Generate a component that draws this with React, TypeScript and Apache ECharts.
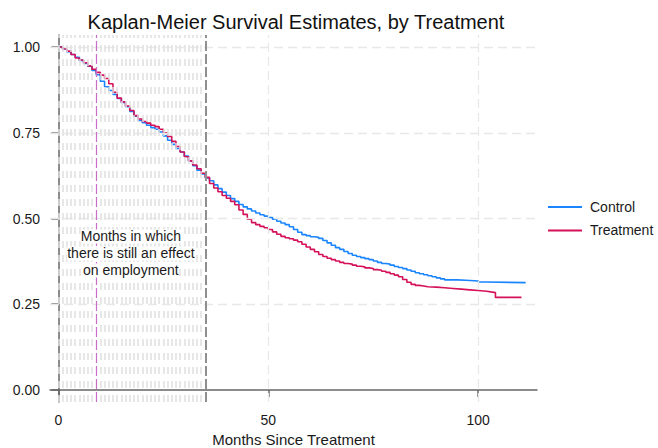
import React, { useEffect, useRef } from "react";
import * as echarts from "echarts";

// Kaplan-Meier estimates: [months, survival]
const controlSurv: [number, number][] = [
  [0, 1.0], [1, 0.994], [2, 0.986], [3, 0.978], [4, 0.97], [5, 0.961], [6, 0.952], [7, 0.944],
  [8, 0.932], [9, 0.919], [10, 0.9], [11, 0.884], [12, 0.873], [13, 0.862], [14, 0.85],
  [15, 0.838], [16, 0.826], [17, 0.812], [18, 0.798], [19, 0.786], [20, 0.779], [21, 0.772],
  [22, 0.765], [23, 0.76], [24, 0.752], [25, 0.741], [26, 0.728], [27, 0.716], [28, 0.704],
  [29, 0.694], [30, 0.682], [31, 0.668], [32, 0.654], [33, 0.641], [34, 0.63], [35, 0.618],
  [36, 0.61], [37, 0.598], [38, 0.587], [39, 0.577], [40, 0.567], [41, 0.558], [42, 0.55],
  [43, 0.541], [44, 0.534], [45, 0.528], [46, 0.522], [47, 0.516], [48, 0.511], [49, 0.507],
  [50, 0.503], [51, 0.498], [52, 0.492], [53, 0.487], [54, 0.482], [55, 0.476], [56, 0.468],
  [57, 0.46], [58, 0.453], [59, 0.45], [60, 0.447], [61, 0.445], [62, 0.442], [63, 0.436],
  [64, 0.429], [65, 0.422], [66, 0.415], [67, 0.41], [68, 0.404], [69, 0.398], [70, 0.393],
  [71, 0.389], [72, 0.386], [73, 0.383], [74, 0.38], [75, 0.376], [76, 0.372], [77, 0.369],
  [78, 0.367], [79, 0.364], [80, 0.36], [81, 0.357], [82, 0.354], [83, 0.35], [84, 0.346],
  [85, 0.342], [86, 0.339], [87, 0.336], [88, 0.333], [89, 0.33], [90, 0.327], [91, 0.324],
  [92, 0.321], [95, 0.32], [97, 0.318], [100, 0.315], [102, 0.313], [111.3, 0.313],
];

const treatmentSurv: [number, number][] = [
  [0, 1.0], [1, 0.995], [2, 0.988], [3, 0.978], [4, 0.968], [5, 0.962], [6, 0.954], [7, 0.945],
  [8, 0.935], [9, 0.926], [10, 0.918], [11, 0.908], [12, 0.893], [13, 0.868], [14, 0.851],
  [15, 0.84], [16, 0.828], [17, 0.815], [18, 0.8], [19, 0.79], [20, 0.783], [21, 0.778],
  [22, 0.772], [23, 0.768], [24, 0.76], [25, 0.75], [26, 0.739], [27, 0.725], [28, 0.71],
  [29, 0.694], [30, 0.68], [31, 0.668], [32, 0.656], [33, 0.645], [34, 0.632], [35, 0.62],
  [36, 0.602], [37, 0.589], [38, 0.578], [39, 0.567], [40, 0.559], [41, 0.55], [42, 0.54],
  [43, 0.525], [44, 0.512], [45, 0.498], [46, 0.488], [47, 0.482], [48, 0.477], [49, 0.473],
  [50, 0.468], [51, 0.461], [52, 0.454], [53, 0.448], [54, 0.444], [55, 0.441], [56, 0.437],
  [57, 0.432], [58, 0.425], [59, 0.417], [60, 0.41], [61, 0.403], [62, 0.395], [63, 0.389],
  [64, 0.384], [65, 0.38], [66, 0.376], [67, 0.372], [68, 0.369], [69, 0.367], [70, 0.364],
  [71, 0.361], [72, 0.359], [73, 0.356], [74, 0.354], [75, 0.351], [76, 0.349], [77, 0.346],
  [78, 0.343], [79, 0.339], [80, 0.335], [81, 0.33], [82, 0.322], [83, 0.314], [84, 0.308],
  [85, 0.305], [86, 0.303], [87, 0.301], [88, 0.3], [90, 0.298], [92, 0.296], [94, 0.294],
  [96, 0.292], [98, 0.29], [100, 0.288], [102, 0.286], [103, 0.284], [104.1, 0.27], [110.3, 0.27],
];

const seriesNames = ["Control", "Treatment"];
const xTicks = [0, 50, 100];
const yTicks = [0, 0.25, 0.5, 0.75, 1];
const yGridLines = [0.25, 0.5, 0.75, 1];
const xGridLines = [50, 100];
const effectMonths = [
  0, 1, 2, 3, 4, 5, 6, 7, 8, 10, 11, 12, 13, 14, 15, 16, 17, 18, 19, 20, 21, 22, 23, 24, 25,
  26, 27, 28, 29, 30, 31, 32, 33, 34,
];
const markerMonth = 9;
const cutoffMonth = 35;
const annotationPoint: [number, number] = [17.27, 0.398];
const annotationLines = ["Months in which", "there is still an effect", "on employment"];
const titleText = "Kaplan-Meier Survival Estimates, by Treatment";
const xTitle = "Months Since Treatment";

const FONT = "'Liberation Sans', Arial, Helvetica, sans-serif";
const TEXT = "#1a1a1a";

export default function App() {
  const ref = useRef<HTMLDivElement>(null);
  useEffect(() => {
    if (!ref.current) return;
    const chart = echarts.init(ref.current, undefined, { renderer: "svg" });
    const lightDash = { color: "#e0e0e0", width: 1.5, type: [7, 7] as any };
    const markLineData: any[] = [
      ...yGridLines.map((v) => ({ yAxis: v, lineStyle: { color: "#e8e8e8", width: 1.3, type: [9, 5] } })),
      ...xGridLines.map((v) => ({ xAxis: v, lineStyle: { color: "#e8e8e8", width: 1.3, type: [9, 5] } })),
      ...effectMonths.map((m) => ({ xAxis: m, lineStyle: lightDash })),
      { xAxis: markerMonth, lineStyle: { color: "#c86ec8", width: 1.2, type: [10, 3] } },
      { xAxis: cutoffMonth, lineStyle: { color: "#8f8f8f", width: 2, type: [10, 3] } },
    ];
    chart.setOption({
      animation: false,
      backgroundColor: "#ffffff",
      textStyle: { fontFamily: FONT },
      grid: { left: 50, right: 121, top: 35, bottom: 46, containLabel: false, outerBoundsMode: "none" },
      graphic: [
        {
          type: "text",
          x: 296,
          y: 22,
          style: {
            text: titleText,
            font: `20px ${FONT}`,
            fill: "#111111",
            textAlign: "center",
            textVerticalAlign: "middle",
          },
        },
      ],
      legend: {
        data: seriesNames,
        orient: "vertical",
        left: 548,
        top: 199,
        padding: 0,
        icon: "rect",
        itemWidth: 34,
        itemHeight: 2,
        itemGap: 7.4,
        textStyle: { fontSize: 14, color: TEXT, fontFamily: FONT, lineHeight: 16, padding: [0, 0, 0, 3] },
      },
      xAxis: {
        type: "value",
        min: -2,
        max: 114,
        name: xTitle,
        nameLocation: "middle",
        nameGap: 29,
        nameTextStyle: { fontSize: 15, color: TEXT, fontFamily: FONT },
        axisLine: { lineStyle: { color: "#666", width: 1.5 } },
        axisTick: { show: true, length: 7, lineStyle: { color: "#666", width: 1.5 }, customValues: xTicks },
        axisLabel: { fontSize: 14, color: TEXT, margin: 11, customValues: xTicks, fontFamily: FONT },
        splitLine: { show: false },
      },
      yAxis: {
        type: "value",
        min: -0.035,
        max: 1.035,
        axisLine: { show: true, lineStyle: { color: "#666", width: 1.5 } },
        axisTick: { show: true, length: 7, lineStyle: { color: "#666", width: 1.5 }, customValues: yTicks },
        axisLabel: {
          fontSize: 14,
          color: TEXT,
          margin: 10,
          customValues: yTicks,
          fontFamily: FONT,
          formatter: (v: number) => v.toFixed(2),
        },
        splitLine: { show: false },
      },
      series: [
        {
          name: "guides",
          type: "line",
          data: [],
          z: 1,
          silent: true,
          markLine: { silent: true, symbol: "none", label: { show: false }, data: markLineData, animation: false },
        },
        {
          name: seriesNames[0],
          type: "line",
          step: "end",
          data: controlSurv,
          showSymbol: false,
          color: "#1a85ff",
          lineStyle: { width: 1.6, color: "#1a85ff" },
          z: 3,
        },
        {
          name: seriesNames[1],
          type: "line",
          step: "end",
          data: treatmentSurv,
          showSymbol: false,
          color: "#d41159",
          lineStyle: { width: 1.6, color: "#d41159" },
          z: 4,
        },
        {
          name: "annotation",
          type: "scatter",
          data: [annotationPoint],
          symbolSize: 1,
          itemStyle: { color: "rgba(0,0,0,0)" },
          z: 6,
          silent: true,
          label: {
            show: true,
            position: "inside",
            color: TEXT,
            textBorderWidth: 0,
            opacity: 1,
            formatter: annotationLines.map((l) => `{a|${l}}`).join("\n"),
            rich: {
              a: {
                fontSize: 14,
                color: TEXT,
                fontFamily: FONT,
                lineHeight: 17,
                textBorderWidth: 0,
                backgroundColor: "#ffffff",
                align: "center",
              },
            },
          },
        },
      ],
    });
    return () => chart.dispose();
  }, []);
  return <div ref={ref} style={{ width: 658, height: 448, position: "absolute", left: 0, top: 0 }} />;
}
